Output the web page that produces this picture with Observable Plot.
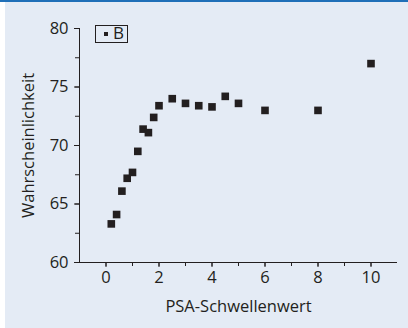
<!DOCTYPE html>
<html><head><meta charset="utf-8">
<script src="https://cdn.jsdelivr.net/npm/d3@7"></script>
<script src="https://cdn.jsdelivr.net/npm/@observablehq/plot@0.6"></script>
<style>
html,body{margin:0;padding:0;background:#fff;}
#wrap{position:relative;width:408px;height:328px;overflow:hidden;background:#fff;}
#bg{position:absolute;left:5px;top:0;width:403px;height:328px;background:#e4ebf5;}
#topline{position:absolute;left:0;top:0;width:408px;height:1.5px;background:#1f6fb8;}
#chart{position:absolute;left:0;top:0;}
#chart svg text{font-size:16.5px;fill:#231f20;}
#legend{position:absolute;left:95px;top:25px;width:31px;height:16px;border:1px solid #231f20;font-family:"Open Sans",sans-serif;font-size:17px;line-height:16px;color:#231f20;}
#legend .sw{position:absolute;left:8px;top:6px;width:4px;height:4px;background:#231f20;}
#legend .lb{position:absolute;left:17px;top:-1px;}
</style></head>
<body>
<div id="wrap"><div id="bg"></div><div id="chart"></div><div id="topline"></div>
<div id="legend"><span class="sw"></span><span class="lb" id="lbl"></span></div></div>
<script>
const seriesName = "B";
const psa = [0.2,0.4,0.6,0.8,1.0,1.2,1.4,1.6,1.8,2.0,2.5,3.0,3.5,4.0,4.5,5.0,6.0,8.0,10.0];
const prob = [63.3,64.1,66.1,67.2,67.7,69.5,71.4,71.1,72.4,73.4,74.0,73.6,73.4,73.3,74.2,73.6,73.0,73.0,77.0];
const xTicks = [0,2,4,6,8,10];
const xMinor = [0,1,2,3,4,5,6,7,8,9,10];
const yTicks = [60,65,70,75,80];
const yMinor = [60,62.5,65,67.5,70,72.5,75,77.5,80];
const xLabel = "PSA-Schwellenwert";
const yLabel = "Wahrscheinlichkeit";

document.getElementById("lbl").textContent = seriesName;
const data = psa.map((x,i)=>({x, y: prob[i]}));
const ink = "#231f20";
const chart = Plot.plot({
  width: 408, height: 328,
  marginLeft: 79, marginRight: 11, marginTop: 28, marginBottom: 66,
  style: {background: "transparent", fontFamily: "'Open Sans', sans-serif", fontSize: "16.5px", color: ink},
  x: {domain: [-1, 11], label: null},
  y: {domain: [60, 80], label: null},
  marks: [
    Plot.ruleY([60], {stroke: ink, strokeWidth: 1}),
    Plot.ruleX([-1], {stroke: ink, strokeWidth: 1}),
    Plot.axisX(xMinor, {tickSize: 4, tickFormat: () => "", stroke: ink}),
    Plot.axisX(xTicks, {tickSize: 5, tickPadding: 4, stroke: ink, fill: ink, label: xLabel, labelAnchor: "center", labelArrow: "none", labelOffset: 49}),
    Plot.axisY(yMinor, {tickSize: 4, tickFormat: () => "", stroke: ink}),
    Plot.axisY(yTicks, {tickSize: 5, tickPadding: 6, stroke: ink, fill: ink, label: yLabel, labelAnchor: "center", labelArrow: "none", labelOffset: 57}),
    Plot.dot(data, {x: "x", y: "y", symbol: "square", r: 4.3, fill: ink, stroke: "none"})
  ]
});
document.getElementById("chart").appendChild(chart);
</script>
</body></html>
